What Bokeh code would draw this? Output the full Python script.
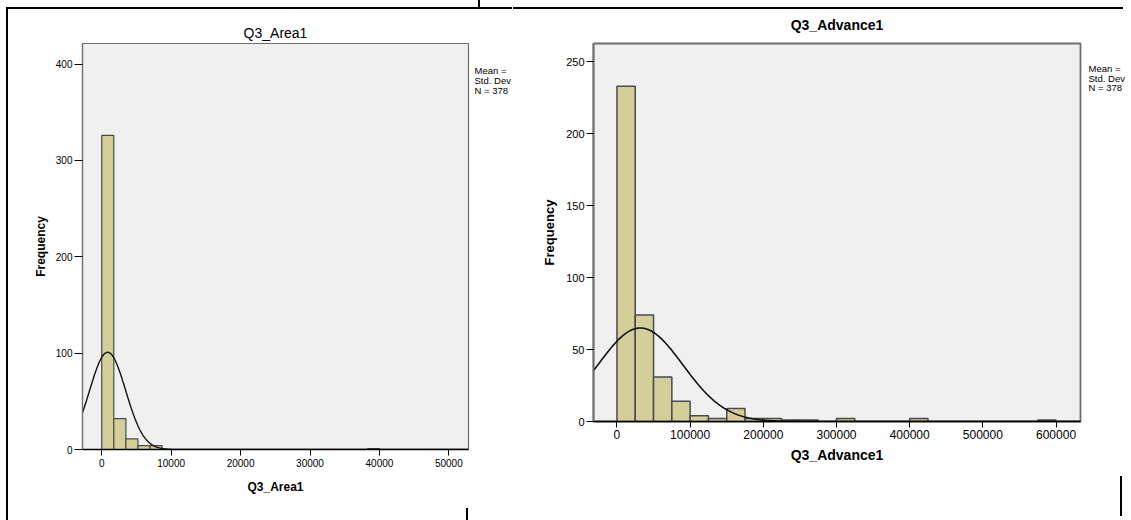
import numpy as np
from bokeh.plotting import figure
from bokeh.layouts import row
from bokeh.models import (ColumnDataSource, Range1d, FixedTicker, BasicTickFormatter,
                          LinearAxis)
from bokeh.embed import file_html
from bokeh.resources import INLINE

FONT = "Liberation Sans"
BAR_FILL = "#D4CF98"
BAR_LINE = "#4a4a4a"
PLOT_BG = "#F0F0F0"
FRAME = "#6e6e6e"

# ---------------- data: Q3_Area1 ----------------
area_bin_width = 1740
area_bin_start = [0, 1740, 3480, 5220, 6960, 38280]
area_counts = [326, 32, 11, 4, 4, 1]
area_mean = 850
area_sd = 2600
area_n = 378
area_xticks = [0, 10000, 20000, 30000, 40000, 50000]
area_yticks = [0, 100, 200, 300, 400]

# ---------------- data: Q3_Advance1 ----------------
adv_bin_width = 25000
adv_bin_start = [0, 25000, 50000, 75000, 100000, 125000, 150000, 175000,
                 200000, 225000, 250000, 300000, 400000, 575000]
adv_counts = [233, 74, 31, 14, 4, 2, 9, 2, 2, 1, 1, 2, 2, 1]
adv_mean = 32000
adv_sd = 58000
adv_n = 378
adv_xticks = [0, 100000, 200000, 300000, 400000, 500000, 600000]
adv_yticks = [0, 50, 100, 150, 200, 250]

legend_lines = ["Mean =", "Std. Dev", "N = 378"]


def normal_curve(x0, x1, mean, sd, n, bw):
    x = np.linspace(x0, x1, 600)
    y = n * bw / (sd * np.sqrt(2 * np.pi)) * np.exp(-0.5 * ((x - mean) / sd) ** 2)
    return x, y


def style(p, tick_fs, label_fs, title_fs, title_bold, frame_w):
    p.background_fill_color = PLOT_BG
    p.border_fill_color = None
    p.outline_line_color = FRAME
    p.outline_line_width = frame_w
    p.grid.visible = False
    p.title.align = "center"
    p.title.text_font = FONT
    p.title.text_font_size = title_fs
    p.title.text_font_style = "bold" if title_bold else "normal"
    p.title.text_color = "black"
    for ax in (p.xaxis[0], p.yaxis[0]):
        ax.major_label_text_font = FONT
        ax.major_label_text_font_size = tick_fs
        ax.major_label_text_color = "black"
        ax.axis_label_text_font = FONT
        ax.axis_label_text_font_size = label_fs
        ax.axis_label_text_font_style = "bold"
        ax.axis_label_text_color = "black"
        ax.minor_tick_line_color = None
        ax.major_tick_in = 0
        ax.major_tick_line_color = "black"
        ax.major_tick_line_width = 1
    p.xaxis[0].axis_line_color = "black"
    p.xaxis[0].axis_line_width = 1.5
    p.yaxis[0].axis_line_color = FRAME
    p.yaxis[0].axis_line_width = frame_w
    p.xaxis[0].formatter = BasicTickFormatter(use_scientific=False)


def add_stats_text(p, frame_h, offsets, standoff):
    # "Mean = / Std. Dev / N = 378" block at the right of the frame
    p.extra_y_ranges = {"px": Range1d(start=frame_h, end=0)}
    ax = LinearAxis(y_range_name="px",
                    ticker=FixedTicker(ticks=offsets),
                    major_label_overrides={o: t for o, t in zip(offsets, legend_lines)},
                    axis_line_color=None, major_tick_line_color=None,
                    minor_tick_line_color=None, major_tick_out=0, major_tick_in=0,
                    major_label_standoff=standoff,
                    major_label_text_font=FONT, major_label_text_font_size="9.5px",
                    major_label_text_color="black")
    p.add_layout(ax, "right")


def page_lines(segments):
    # document table border lines, drawn as CSS backgrounds behind the canvas
    imgs = ", ".join(["linear-gradient(#000,#000)"] * len(segments))
    sizes = ", ".join(f"{w}px {h}px" for (x, y, w, h) in segments)
    poss = ", ".join(f"{x}px {y}px" for (x, y, w, h) in segments)
    return {"background-image": imgs, "background-size": sizes,
            "background-position": poss, "background-repeat": "no-repeat"}


# ================= left chart =================
p1 = figure(frame_width=386, frame_height=406,
            min_border_left=82, min_border_right=44,
            min_border_top=43, min_border_bottom=71,
            x_range=Range1d(-2770, 52830), y_range=Range1d(0, 421.4),
            title="Q3_Area1", output_backend="svg", toolbar_location=None,
            styles=page_lines([(6, 7, 2, 513), (6, 7, 506, 2), (478, 0, 2, 8), (466, 508, 2, 12)]))
style(p1, "10px", "12px", "14px", False, 1.2)
p1.title.standoff = 6
p1.xaxis[0].ticker = FixedTicker(ticks=area_xticks)
p1.yaxis[0].ticker = FixedTicker(ticks=area_yticks)
p1.xaxis[0].axis_label = "Q3_Area1"
p1.yaxis[0].axis_label = "Frequency"
p1.xaxis[0].major_tick_out = 6
p1.yaxis[0].major_tick_out = 8
p1.xaxis[0].major_label_standoff = 3
p1.yaxis[0].major_label_standoff = 2
p1.xaxis[0].axis_label_standoff = 10
p1.yaxis[0].axis_label_standoff = 5

src1 = ColumnDataSource(dict(
    left=area_bin_start,
    right=[b + area_bin_width for b in area_bin_start],
    top=area_counts,
    bottom=[0] * len(area_counts)))
p1.quad(left="left", right="right", top="top", bottom="bottom", source=src1,
        fill_color=BAR_FILL, line_color=BAR_LINE, line_width=1.2)
cx, cy = normal_curve(-2770, 52830, area_mean, area_sd, area_n, area_bin_width)
p1.line(cx, cy, line_color="#111111", line_width=1.4)
add_stats_text(p1, 406, [27, 37, 47], 6)

# ================= right chart =================
p2 = figure(frame_width=487, frame_height=378,
            min_border_left=80, min_border_right=52,
            min_border_top=41, min_border_bottom=101,
            x_range=Range1d(-32060, 633420), y_range=Range1d(0, 262.8),
            title="Q3_Advance1", output_backend="svg", toolbar_location=None,
            styles=page_lines([(0, 7, 610, 2), (607, 476, 2, 40)]))
style(p2, "11px", "13px", "14px", True, 1.8)
p2.title.standoff = 22
p2.xaxis[0].ticker = FixedTicker(ticks=adv_xticks)
p2.yaxis[0].ticker = FixedTicker(ticks=adv_yticks)
p2.xaxis[0].major_label_text_font_size = "12px"
p2.xaxis[0].axis_label = "Q3_Advance1"
p2.xaxis[0].axis_label_text_font_size = "14px"
p2.yaxis[0].axis_label = "Frequency"
p2.xaxis[0].major_tick_out = 6
p2.yaxis[0].major_tick_out = 7
p2.xaxis[0].major_label_standoff = 2
p2.yaxis[0].major_label_standoff = 2
p2.xaxis[0].axis_label_standoff = 5
p2.yaxis[0].axis_label_standoff = 6

src2 = ColumnDataSource(dict(
    left=adv_bin_start,
    right=[b + adv_bin_width for b in adv_bin_start],
    top=adv_counts,
    bottom=[0] * len(adv_counts)))
p2.quad(left="left", right="right", top="top", bottom="bottom", source=src2,
        fill_color=BAR_FILL, line_color=BAR_LINE, line_width=1.5)
cx2, cy2 = normal_curve(-32060, 633420, adv_mean, adv_sd, adv_n, adv_bin_width)
p2.line(cx2, cy2, line_color="#111111", line_width=1.6)
add_stats_text(p2, 378, [25, 34.5, 44], 8)

layout = row(p1, p2)
open("out.html", "w").write(file_html(layout, INLINE))
